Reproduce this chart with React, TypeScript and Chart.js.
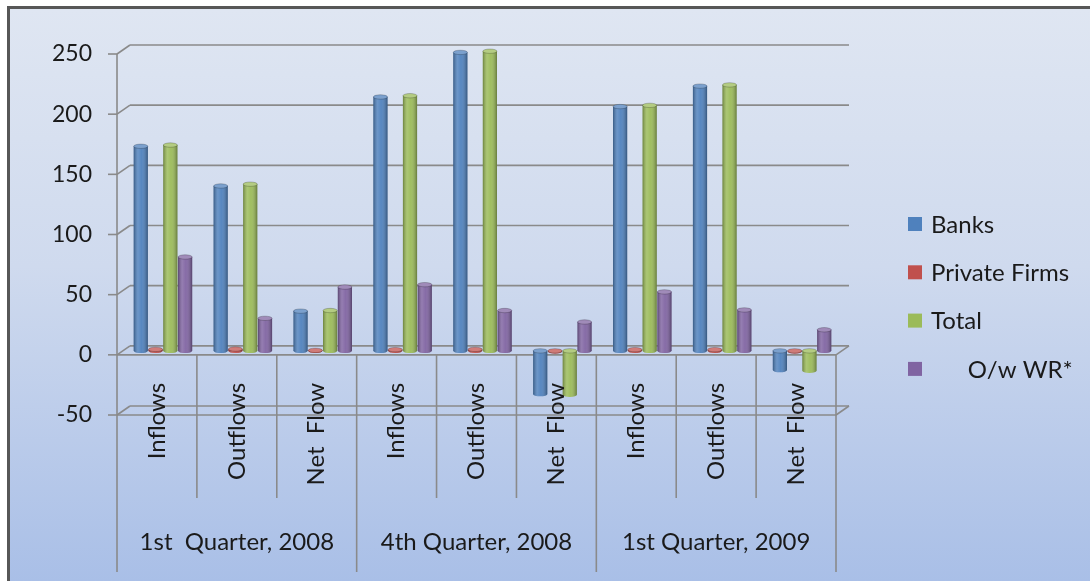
import React, { useEffect, useRef } from "react";
import { Chart, registerables } from "chart.js";

Chart.register(...registerables);

// ---- Data ----
const categories = ["Inflows", "Outflows", "Net  Flow", "Inflows", "Outflows", "Net  Flow", "Inflows", "Outflows", "Net  Flow"];
const groups = ["1st  Quarter, 2008", "4th Quarter, 2008", "1st Quarter, 2009"];
const banks = [170, 137, 33, 211, 248, -36, 203, 220, -16];
const privateFirms = [1.2, 1.5, 0.4, 1.0, 1.2, -0.5, 1.0, 1.0, -0.5];
const total = [171, 138.5, 33.5, 212, 249, -36.5, 204, 221, -16.5];
const owWR = [78, 27, 53, 55, 33.5, 24, 49, 34, 17.5];
const seriesNames = ["Banks", "Private Firms", "Total", "      O/w WR*"];
const seriesColors = ["#4F81BD", "#C0504D", "#9BBB59", "#8064A2"];
const yTicks = [-50, 0, 50, 100, 150, 200, 250];

// ---- Styling constants ----
const FONT = "Lato, 'Open Sans', sans-serif";
const TEXT = "#1a1a1a";
const LINE = "#8a8a8a";
const DEPTH_X = 13;
const FRONT_DY = 4;
const BACK_DY = -5;
const BAR_SHIFT = 6;
const PER_GROUP = 3;

function seg(ctx: CanvasRenderingContext2D, x1: number, y1: number, x2: number, y2: number) {
  ctx.beginPath();
  ctx.moveTo(x1, y1);
  ctx.lineTo(x2, y2);
  ctx.stroke();
}

const frame3d = {
  id: "frame3d",
  beforeDatasetsDraw(chart: any) {
    const { ctx, chartArea: a, scales } = chart;
    const y = scales.y;
    const fl = a.left - BAR_SHIFT;
    const fr = a.right - BAR_SHIFT;
    const bl = fl + DEPTH_X;
    const br = fr + DEPTH_X;
    ctx.save();
    ctx.strokeStyle = LINE;
    ctx.lineWidth = 1.6;
    yTicks.forEach((v) => {
      const p = y.getPixelForValue(v);
      const fy = p + FRONT_DY;
      const by = p + BACK_DY;
      seg(ctx, bl, by, br, by);
      seg(ctx, fl, fy, bl, by);
      seg(ctx, fl - 9, fy, fl, fy);
      if (v <= 0) {
        seg(ctx, fl, fy, fr, fy);
        seg(ctx, fr, fy, br, by);
      }
    });
    const top = y.getPixelForValue(yTicks[yTicks.length - 1]) + FRONT_DY;
    const zero = y.getPixelForValue(0) + FRONT_DY;
    const longEnd = chart.height - 9;
    const shortEnd = chart.height - 83;
    seg(ctx, fl, top, fl, longEnd);
    const catW = (a.right - a.left) / categories.length;
    for (let i = 1; i <= categories.length; i++) {
      const xi = fl + i * catW;
      seg(ctx, xi, zero, xi, i % PER_GROUP === 0 ? longEnd : shortEnd);
    }
    ctx.restore();
  },
  afterDatasetsDraw(chart: any) {
    const { ctx } = chart;
    ctx.save();
    chart.data.datasets.forEach((ds: any, di: number) => {
      const meta = chart.getDatasetMeta(di);
      meta.data.forEach((el: any) => {
        const w = el.width;
        const x = el.x;
        const t = Math.min(el.y, el.base);
        const b = Math.max(el.y, el.base);
        const left = x - w / 2;
        ctx.fillStyle = seriesColors[di];
        ctx.beginPath();
        ctx.ellipse(x, b, w / 2, 2.2, 0, 0, Math.PI * 2);
        ctx.fill();
        const g = ctx.createLinearGradient(left, 0, left + w, 0);
        g.addColorStop(0, "rgba(0,0,0,0.3)");
        g.addColorStop(0.3, "rgba(255,255,255,0.16)");
        g.addColorStop(0.55, "rgba(255,255,255,0.05)");
        g.addColorStop(1, "rgba(0,0,0,0.34)");
        ctx.fillStyle = g;
        ctx.fillRect(left, t, w, b - t);
        ctx.beginPath();
        ctx.ellipse(x, b, w / 2, 2.2, 0, 0, Math.PI);
        ctx.fill();
        ctx.fillStyle = seriesColors[di];
        ctx.beginPath();
        ctx.ellipse(x, t, w / 2, 2.2, 0, 0, Math.PI * 2);
        ctx.fill();
        ctx.fillStyle = "rgba(255,255,255,0.25)";
        ctx.fill();
        ctx.strokeStyle = "rgba(0,0,0,0.25)";
        ctx.lineWidth = 0.8;
        ctx.stroke();
      });
    });
    ctx.restore();
  },
  afterDraw(chart: any) {
    const { ctx, chartArea: a, scales } = chart;
    const y = scales.y;
    const fl = a.left - BAR_SHIFT;
    const catW = (a.right - a.left) / categories.length;
    const zero = y.getPixelForValue(0) + FRONT_DY;
    ctx.save();
    ctx.fillStyle = TEXT;
    ctx.font = `24px ${FONT}`;
    categories.forEach((c, i) => {
      const cx = fl + (i + 0.5) * catW;
      ctx.save();
      ctx.translate(cx, zero + 28);
      ctx.rotate(-Math.PI / 2);
      ctx.textAlign = "right";
      ctx.textBaseline = "middle";
      ctx.fillText(c, 0, 0);
      ctx.restore();
    });
    ctx.textAlign = "center";
    ctx.textBaseline = "middle";
    groups.forEach((g, gi) => {
      const cx = fl + (gi * PER_GROUP + PER_GROUP / 2) * catW;
      ctx.fillText(g, cx, chart.height - 39);
    });
    const lx = a.right + 66;
    const ly0 = 224;
    const step = 48.3;
    ctx.textAlign = "left";
    chart.data.datasets.forEach((ds: any, i: number) => {
      const cy = ly0 + i * step;
      ctx.fillStyle = seriesColors[i];
      ctx.fillRect(lx, cy - 7, 14, 14);
      ctx.fillStyle = TEXT;
      ctx.fillText(ds.label, lx + 23, cy + 1);
    });
    ctx.restore();
  },
};

export default function App() {
  const ref = useRef<HTMLCanvasElement | null>(null);

  useEffect(() => {
    if (!ref.current) return;
    const seriesValues = [banks, privateFirms, total, owWR];
    const chart = new Chart(ref.current, {
      type: "bar",
      data: {
        labels: categories,
        datasets: seriesValues.map((vals, i) => ({
          label: seriesNames[i],
          data: vals,
          backgroundColor: seriesColors[i],
          borderWidth: 0,
          categoryPercentage: 0.74,
          barPercentage: 0.96,
        })),
      },
      options: {
        animation: false,
        responsive: false,
        maintainAspectRatio: false,
        devicePixelRatio: 1,
        layout: { padding: { left: 0, top: 50, right: 248, bottom: 170 } },
        plugins: { legend: { display: false }, tooltip: { enabled: false }, title: { display: false } },
        scales: {
          x: { display: false },
          y: {
            min: -50,
            max: 250,
            afterFit: (scale: any) => {
              scale.width = 123;
            },
            afterBuildTicks: (scale: any) => {
              scale.ticks = yTicks.map((v) => ({ value: v }));
            },
            grid: { display: false, drawTicks: false },
            border: { display: false },
            ticks: {
              padding: 31,
              labelOffset: 4,
              color: TEXT,
              font: { family: FONT, size: 23 },
            },
          },
        },
      },
      plugins: [frame3d],
    });
    return () => chart.destroy();
  }, []);

  return (
    <div style={{ position: "absolute", left: 0, top: 0, width: 1090, height: 581, background: "#ffffff", overflow: "hidden" }}>
      <div
        style={{
          position: "absolute",
          left: 7,
          top: 6,
          width: 1083,
          height: 575,
          boxSizing: "border-box",
          borderTop: "3px solid #575757",
          borderLeft: "3px solid #575757",
          background: "linear-gradient(to bottom, #dfe6f2 0%, #cfdaee 45%, #a9bfe7 100%)",
        }}
      />
      <canvas ref={ref} width={1090} height={581} style={{ position: "absolute", left: 0, top: 0 }} />
    </div>
  );
}
